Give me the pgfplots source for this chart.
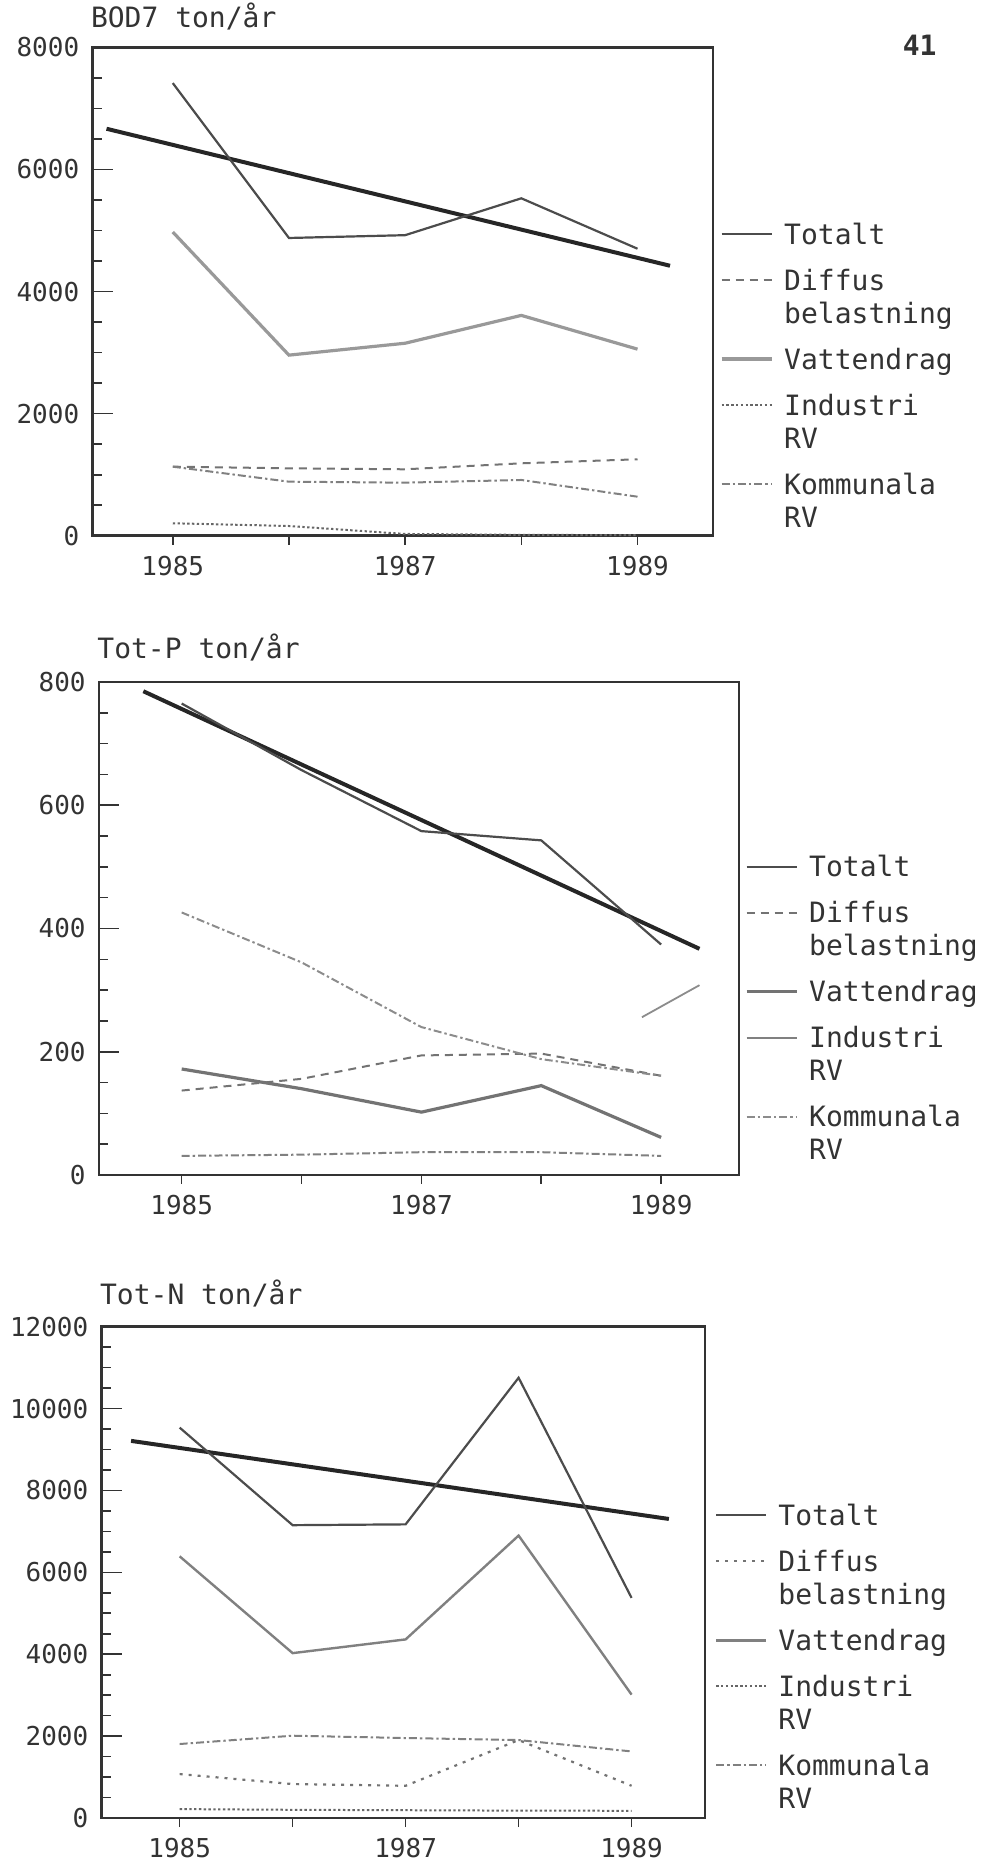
\documentclass[border=0pt]{standalone}
\usepackage{fontspec}
\setmainfont{DejaVu Sans Mono}
\usepackage{pgfplots}
\pgfplotsset{compat=1.18}

\tikzset{last/.style={text depth=8pt}}
\pgfplotsset{
  panel/.style={
    scale only axis,
    anchor=south west,
    xmin=1984.31, xmax=1989.65,
    xtick={1985,1987,1989},
    xticklabels={1985,1987,1989},
    minor xtick={1985,1986,1987,1988,1989},
    xtick pos=lower, ytick pos=left,
    xtick align=outside, ytick align=inside,
    major tick length=10pt, minor tick length=4.5pt,
    every major x tick/.append style={draw=none},
    minor y tick num=3,
    scaled y ticks=false,
    /pgf/number format/1000 sep={},
    /pgf/number format/assume math mode=true,
    axis line style={black!80, line width=1.4pt},
    every tick/.style={black!80, line width=0.8pt},
    yticklabel style={font=\fontsize{13}{15}\selectfont, inner sep=0pt, xshift=-6.5pt, text=black!80},
    xticklabel style={font=\fontsize{13}{15}\selectfont, inner sep=0pt, text=black!80},
    title style={at={(0,1)}, anchor=base west, inner sep=0pt, xshift=-1pt, font=\fontsize{14}{16}\selectfont, text=black!80},
    legend style={draw=none, fill=none, inner sep=0pt, outer sep=0pt,
      anchor=north west, column sep=3.5pt, row sep=0pt,
      font=\fontsize{14}{16}\selectfont, text=black!80,
      cells={anchor=base west, inner sep=0pt, text height=11pt, text depth=5pt}},
    legend image code/.code={\draw[#1] (0pt,5pt) -- (25pt,5pt);},
    clip=false,
  },
  trend/.style={black!85, line width=2pt},
  tot/.style={black!70, line width=1.1pt},
  vatt/.style={black!40, line width=1.6pt},
  diff/.style={black!55, line width=1pt, dash pattern=on 4pt off 3pt},
  diffdot/.style={black!55, line width=1.1pt, dash pattern=on 1.5pt off 3pt},
  komm/.style={black!50, line width=1pt, dash pattern=on 4pt off 1.5pt on 1.2pt off 1.5pt},
  indu/.style={black!60, line width=1pt, dash pattern=on 1.2pt off 1.2pt},
}

\begin{document}
\begin{tikzpicture}
\useasboundingbox (0,0) rectangle (490.5pt,933pt);

% ---------------- Panel 1: BOD7 ----------------
\begin{axis}[panel,
  at={(46.3pt,665.1pt)}, width=310.2pt, height=244.2pt,
  ymin=0, ymax=8000, ytick={0,2000,4000,6000,8000},
  title={BOD7 ton/år}, title style={yshift=4pt},
  legend style={at={(1,0.622)}, xshift=3.5pt, yshift=7pt},
]
\addplot[trend, forget plot] coordinates {(1984.43,6667) (1989.28,4423)};
\addplot[tot] coordinates {(1985,7415) (1986,4878) (1987,4924) (1988,5528) (1989,4702)};
\addlegendentry[last]{Totalt}
\addplot[diff] coordinates {(1985,1132) (1986,1105) (1987,1089) (1988,1187) (1989,1253)};
\addlegendentry{Diffus}
\addlegendimage{empty legend}
\addlegendentry[last]{belastning}
\addplot[vatt] coordinates {(1985,4976) (1986,2959) (1987,3154) (1988,3610) (1989,3057)};
\addlegendentry[last]{Vattendrag}
\addplot[indu] coordinates {(1985,205) (1986,160) (1987,30) (1988,15) (1989,10)};
\addlegendentry{Industri}
\addlegendimage{empty legend}
\addlegendentry[last]{RV}
\addplot[komm] coordinates {(1985,1132) (1986,886) (1987,870) (1988,914) (1989,640)};
\addlegendentry{Kommunala}
\addlegendimage{empty legend}
\addlegendentry{RV}
\node[font=\fontsize{14}{16}\selectfont\bfseries, text=black!80] at (rel axis cs:1.333,1.004) {41};
\end{axis}

% ---------------- Panel 2: Tot-P ----------------
\begin{axis}[panel,
  at={(49.5pt,345.5pt)}, width=320pt, height=246.5pt,
  ymin=0, ymax=800, ytick={0,200,400,600,800},
  title={Tot-P ton/år}, title style={yshift=5.5pt},
  legend style={at={(1,0.629)}, xshift=3pt, yshift=7pt},
]
\addplot[trend, forget plot] coordinates {(1984.68,785) (1989.32,367)};
\addplot[black!45, line width=0.9pt, forget plot] coordinates {(1988.84,256) (1989.32,308)};
\addplot[komm, forget plot] coordinates {(1985,31) (1986,33) (1987,37) (1988,37) (1989,31)};
\addplot[tot] coordinates {(1985,765) (1986,657) (1987,558) (1988,543) (1989,374)};
\addlegendentry[last]{Totalt}
\addplot[diff] coordinates {(1985,137) (1986,156) (1987,194) (1988,197) (1989,161)};
\addlegendentry{Diffus}
\addlegendimage{empty legend}
\addlegendentry[last]{belastning}
\addplot[vatt, black!55] coordinates {(1985,172) (1986,140) (1987,102) (1988,145) (1989,61)};
\addlegendentry[last]{Vattendrag}
\addlegendimage{black!50, line width=0.8pt}
\addlegendentry{Industri}
\addlegendimage{empty legend}
\addlegendentry[last]{RV}
\addplot[komm, black!45] coordinates {(1985,426) (1986,345) (1987,240) (1988,188) (1989,161)};
\addlegendentry{Kommunala}
\addlegendimage{empty legend}
\addlegendentry{RV}
\end{axis}

% ---------------- Panel 3: Tot-N ----------------
\begin{axis}[panel,
  at={(50.85pt,24pt)}, width=301.65pt, height=245.65pt,
  ymin=0, ymax=12000, ytick={0,2000,4000,6000,8000,10000,12000},
  title={Tot-N ton/år}, title style={yshift=5pt},
  legend style={at={(1,0.620)}, xshift=5pt, yshift=7pt},
]
\addplot[trend, forget plot] coordinates {(1984.57,9211) (1989.33,7304)};
\addplot[tot] coordinates {(1985,9535) (1986,7152) (1987,7172) (1988,10753) (1989,5376)};
\addlegendentry[last]{Totalt}
\addplot[diffdot] coordinates {(1985,1073) (1986,829) (1987,787) (1988,1904) (1989,787)};
\addlegendentry{Diffus}
\addlegendimage{empty legend}
\addlegendentry[last]{belastning}
\addplot[vatt, black!50, line width=1.2pt] coordinates {(1985,6391) (1986,4027) (1987,4362) (1988,6898) (1989,3013)};
\addlegendentry[last]{Vattendrag}
\addplot[indu] coordinates {(1985,217) (1986,200) (1987,190) (1988,180) (1989,176)};
\addlegendentry{Industri}
\addlegendimage{empty legend}
\addlegendentry[last]{RV}
\addplot[komm] coordinates {(1985,1807) (1986,2010) (1987,1953) (1988,1904) (1989,1626)};
\addlegendentry{Kommunala}
\addlegendimage{empty legend}
\addlegendentry{RV}
\end{axis}
\end{tikzpicture}
\end{document}
